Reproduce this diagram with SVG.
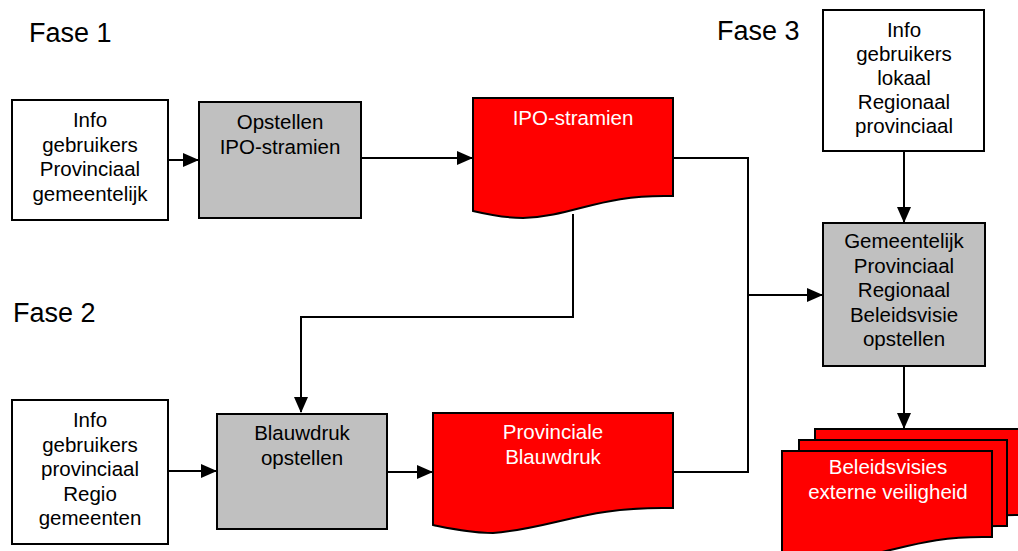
<svg xmlns="http://www.w3.org/2000/svg" width="1018" height="551" viewBox="0 0 1018 551">
<style>
.box{fill:#ffffff;stroke:#000;stroke-width:2}
.proc{fill:#c0c0c0;stroke:#000;stroke-width:2}
.doc{fill:#ff0000;stroke:#000;stroke-width:2;stroke-linejoin:miter}
.t{font-family:"Liberation Sans",Arial,sans-serif;font-size:20.5px;fill:#000;text-anchor:middle}
.w{fill:#fff}
.fase{font-family:"Liberation Sans",Arial,sans-serif;font-size:27px;fill:#000}
.c{fill:none;stroke:#000;stroke-width:2}
</style>
<defs>
<marker id="arr" markerUnits="userSpaceOnUse" markerWidth="16" markerHeight="14" refX="15" refY="7" orient="auto">
<path d="M0,0 L16,7 L0,14 Z" fill="#000"/>
</marker>
</defs>
<rect width="1018" height="551" fill="#fff"/>
<text class="fase" x="29" y="42">Fase 1</text>
<text class="fase" x="13" y="322">Fase 2</text>
<text class="fase" x="717" y="40">Fase 3</text>
<g id="connectors">
<path class="c" d="M168,160 H198" marker-end="url(#arr)"/>
<path class="c" d="M361,158 H472" marker-end="url(#arr)"/>
<path class="c" d="M573,214 V317 H301 V412" marker-end="url(#arr)"/>
<path class="c" d="M673,158 H748 V295 H822" marker-end="url(#arr)"/>
<path class="c" d="M673,472 H748 V295"/>
<path class="c" d="M168,471 H216" marker-end="url(#arr)"/>
<path class="c" d="M387,472 H432" marker-end="url(#arr)"/>
<path class="c" d="M904,151 V222" marker-end="url(#arr)"/>
<path class="c" d="M904,366 V428" marker-end="url(#arr)"/>
</g>
<g id="info1">
<rect class="box" x="12" y="100" width="156" height="120"/>
<text class="t" x="90" y="127">Info</text>
<text class="t" x="90" y="151.5">gebruikers</text>
<text class="t" x="90" y="176">Provinciaal</text>
<text class="t" x="90" y="200.5">gemeentelijk</text>
</g>
<g id="opstellen">
<rect class="proc" x="199" y="102" width="162" height="116"/>
<text class="t" x="280" y="129">Opstellen</text>
<text class="t" x="280" y="153.5">IPO-stramien</text>
</g>
<g id="ipo">
<path class="doc" d="M473,98 H673 V196 C600,194 575,216 523,218 C505,218 490,215 473,211 Z"/>
<text class="t w" x="573" y="125">IPO-stramien</text>
</g>
<g id="info2">
<rect class="box" x="12" y="400" width="156" height="144"/>
<text class="t" x="90" y="427">Info</text>
<text class="t" x="90" y="451.5">gebruikers</text>
<text class="t" x="90" y="476">provinciaal</text>
<text class="t" x="90" y="500.5">Regio</text>
<text class="t" x="90" y="525">gemeenten</text>
</g>
<g id="blauwdruk">
<rect class="proc" x="217" y="414" width="170" height="115"/>
<text class="t" x="302" y="440">Blauwdruk</text>
<text class="t" x="302" y="464.5">opstellen</text>
</g>
<g id="provinciale">
<path class="doc" d="M433,413 H673 V508 C585,506 555,528 493,533 C471,533 453,529 433,525 Z"/>
<text class="t w" x="553" y="439">Provinciale</text>
<text class="t w" x="553" y="463.5">Blauwdruk</text>
</g>
<g id="info3">
<rect class="box" x="823" y="10" width="161" height="141"/>
<text class="t" x="904" y="37">Info</text>
<text class="t" x="904" y="61">gebruikers</text>
<text class="t" x="904" y="85">lokaal</text>
<text class="t" x="904" y="109">Regionaal</text>
<text class="t" x="904" y="133">provinciaal</text>
</g>
<g id="gemeentelijk">
<rect class="proc" x="823" y="223" width="162" height="143"/>
<text class="t" x="904" y="248">Gemeentelijk</text>
<text class="t" x="904" y="272.5">Provinciaal</text>
<text class="t" x="904" y="297">Regionaal</text>
<text class="t" x="904" y="321.5">Beleidsvisie</text>
<text class="t" x="904" y="346">opstellen</text>
</g>
<g id="beleidsvisies">
<path class="doc" d="M815,429 H1025 V515 C948,513 922,535 867,537 C849,537 833,534 815,530 Z"/>
<path class="doc" d="M799,440 H1007 V526 C932,524 906,546 851,548 C833,548 817,545 799,541 Z"/>
<path class="doc" d="M782,451 H992 V537 C915,535 889,557 834,559 C816,559 800,556 782,552 Z"/>
<text class="t w" x="888" y="474">Beleidsvisies</text>
<text class="t w" x="888" y="499">externe veiligheid</text>
</g>
</svg>
